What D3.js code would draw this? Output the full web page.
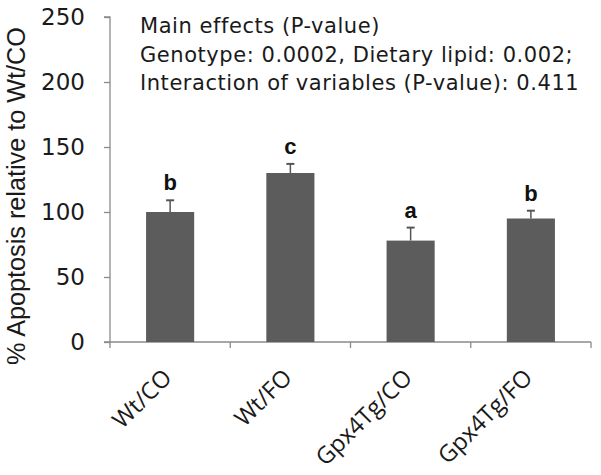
<!DOCTYPE html>
<html><head><meta charset="utf-8">
<script src="https://cdn.jsdelivr.net/npm/d3@7"></script>
<style>body{margin:0;background:#fff}</style>
</head><body>
<svg id="chart" width="601" height="475"></svg>
<script>
const categories = ["Wt/CO", "Wt/FO", "Gpx4Tg/CO", "Gpx4Tg/FO"];
const values = [100, 130, 78, 95];
const errors = [9, 7, 10, 6];
const letters = ["b", "c", "a", "b"];
const yTicks = [0, 50, 100, 150, 200, 250];
const annotation = [
  "Main effects (P-value)",
  "Genotype: 0.0002, Dietary lipid: 0.002;",
  "Interaction of variables (P-value): 0.411"
];
const yLabel = "% Apoptosis relative to Wt/CO";

const svg = d3.select("#chart");
const mLeft = 110, mRight = 591, mTop = 17, mBottom = 342;
const x = d3.scaleBand().domain(categories).range([mLeft, mRight]).paddingInner(0.6).paddingOuter(0.3);
const y = d3.scaleLinear().domain([0, 250]).range([mBottom, mTop]);
const axisColor = "#8a8a8a";
const textColor = "#1a1a1a";

// y axis
const yAxis = svg.append("g").attr("transform", `translate(${mLeft},0)`)
  .call(d3.axisLeft(y).tickValues(yTicks).tickSize(6).tickPadding(19));
yAxis.select(".domain").attr("stroke", axisColor).attr("stroke-width", 1.3).attr("d", `M-6,${y(250)}H0V${mBottom}`);
yAxis.selectAll(".tick line").attr("stroke", axisColor).attr("stroke-width", 1.3);
yAxis.selectAll(".tick text").attr("font-family", "DejaVu Sans").attr("font-size", 23).attr("fill", textColor);

// x axis line with ticks at band boundaries
const boundaries = d3.range(categories.length + 1).map(i => mLeft + i * (mRight - mLeft) / categories.length);
svg.append("line").attr("x1", mLeft - 6).attr("x2", mRight).attr("y1", mBottom).attr("y2", mBottom)
  .attr("stroke", axisColor).attr("stroke-width", 1.3);
svg.selectAll(".xt").data(boundaries).join("line")
  .attr("x1", d => d).attr("x2", d => d).attr("y1", mBottom).attr("y2", mBottom + 6)
  .attr("stroke", axisColor).attr("stroke-width", 1.3);

// bars
svg.selectAll(".bar").data(categories).join("rect")
  .attr("x", d => x(d)).attr("width", x.bandwidth())
  .attr("y", (d, i) => y(values[i])).attr("height", (d, i) => mBottom - y(values[i]))
  .attr("fill", "#5c5c5c");

// error bars
const eg = svg.selectAll(".err").data(categories).join("g");
eg.append("line")
  .attr("x1", d => x(d) + x.bandwidth() / 2).attr("x2", d => x(d) + x.bandwidth() / 2)
  .attr("y1", (d, i) => y(values[i])).attr("y2", (d, i) => y(values[i] + errors[i]))
  .attr("stroke", "#555").attr("stroke-width", 1.5);
eg.append("line")
  .attr("x1", d => x(d) + x.bandwidth() / 2 - 4).attr("x2", d => x(d) + x.bandwidth() / 2 + 4)
  .attr("y1", (d, i) => y(values[i] + errors[i])).attr("y2", (d, i) => y(values[i] + errors[i]))
  .attr("stroke", "#555").attr("stroke-width", 2);

// letters
svg.selectAll(".let").data(categories).join("text")
  .attr("x", d => x(d) + x.bandwidth() / 2)
  .attr("y", (d, i) => y(values[i] + errors[i]) - 10)
  .attr("text-anchor", "middle").attr("font-family", "Liberation Sans, Arial").attr("font-weight", "bold")
  .attr("font-size", 22).attr("fill", "#111").text((d, i) => letters[i]);

// x labels
svg.selectAll(".xl").data(categories).join("text")
  .attr("transform", d => `translate(${x(d) + x.bandwidth() / 2 + 3},${mBottom + 37}) rotate(-45)`)
  .attr("text-anchor", "end").attr("font-family", "Open Sans").attr("font-size", 23.5).attr("fill", textColor)
  .text(d => d);

// y label
const yl = svg.append("text").attr("transform", `translate(25,196) rotate(-90)`)
  .attr("text-anchor", "middle").attr("font-family", "Liberation Sans, Arial").attr("font-size", 22).attr("fill", textColor)
  .text(yLabel);
const ylw = yl.node().getComputedTextLength();
yl.attr("font-size", 22 * 338 / ylw);

// annotation
svg.selectAll(".ann").data(annotation).join("text")
  .attr("x", 140).attr("y", (d, i) => 33 + i * 28.5)
  .attr("font-family", "DejaVu Sans").attr("font-size", 21).attr("letter-spacing", 0.55).attr("fill", textColor)
  .text(d => d);
</script>
</body></html>
